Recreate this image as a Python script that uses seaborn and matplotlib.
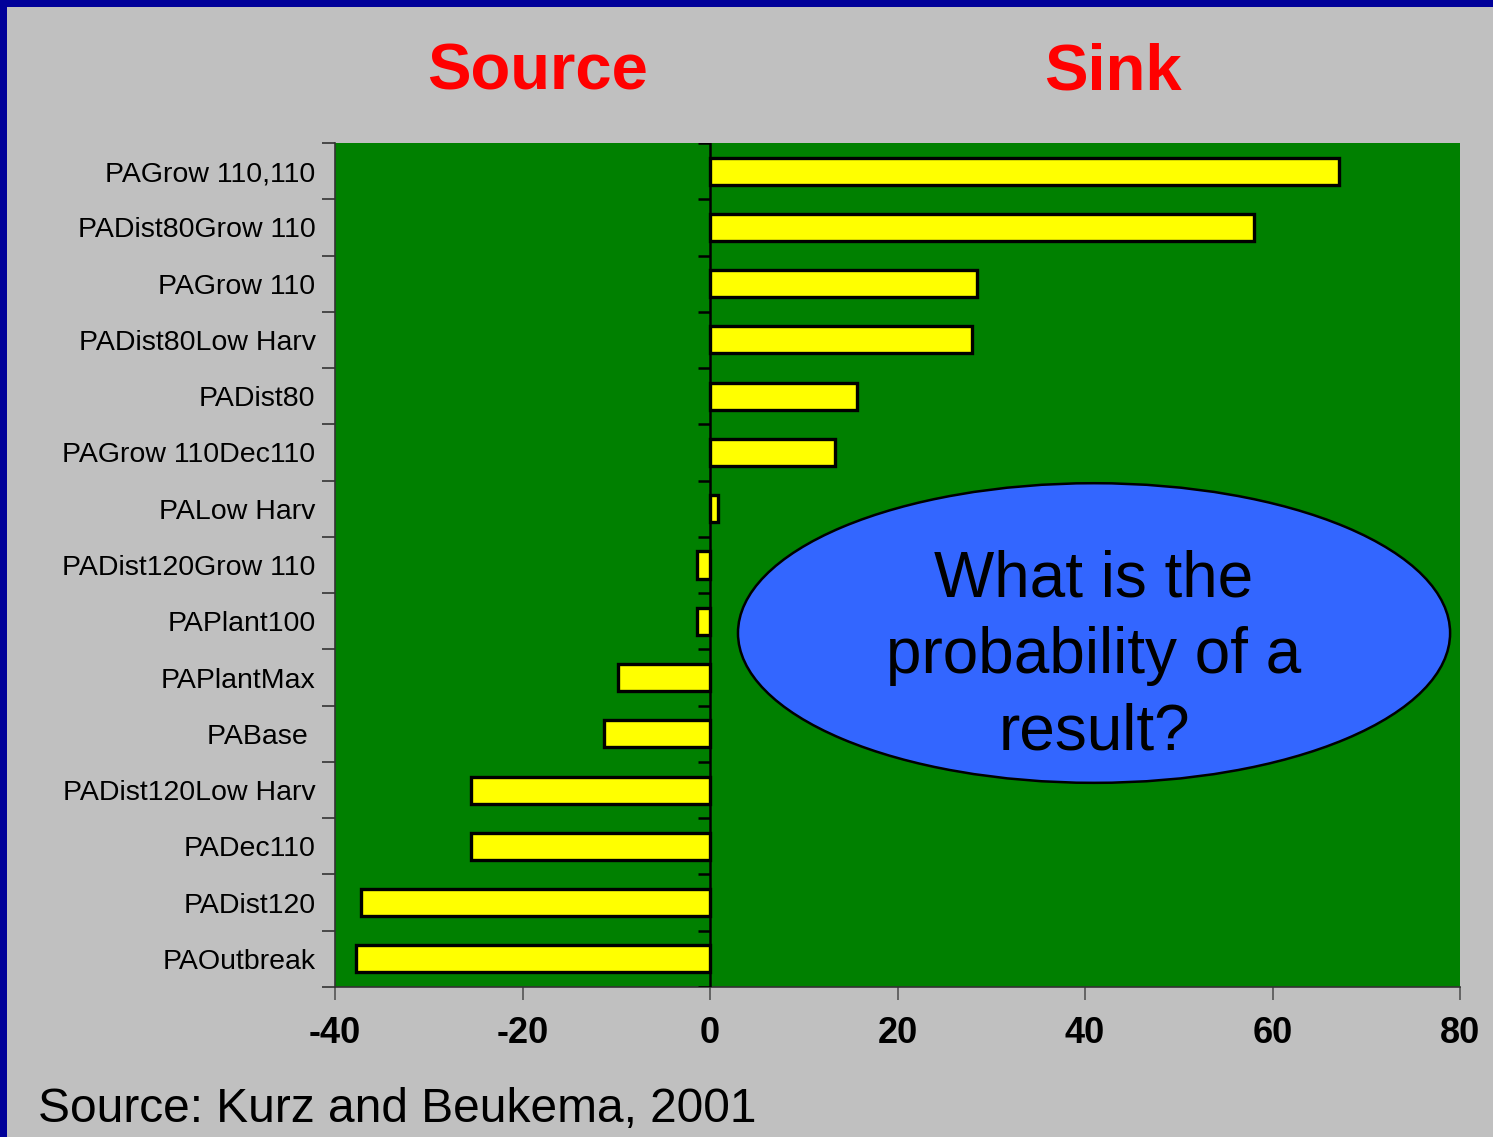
import matplotlib
matplotlib.use("Agg")
import matplotlib.pyplot as plt
from matplotlib.patches import Ellipse, Rectangle
import seaborn as sns
import pandas as pd
import numpy as np

categories = ["PAGrow 110,110", "PADist80Grow 110", "PAGrow 110", "PADist80Low Harv",
              "PADist80", "PAGrow 110Dec110", "PALow Harv", "PADist120Grow 110",
              "PAPlant100", "PAPlantMax", "PABase ", "PADist120Low Harv",
              "PADec110", "PADist120", "PAOutbreak"]
values = [67.1, 58.0, 28.5, 27.9, 15.7, 13.3, 0.85, -1.4, -1.4, -9.8, -11.3,
          -25.5, -25.5, -37.2, -37.8]
x_ticks = [-40, -20, 0, 20, 40, 60, 80]

GRAY = "#C0C0C0"
GREEN = "#008000"
YELLOW = "#FFFF00"

sns.set_theme(style="white")
plt.rcParams["font.family"] = ["Liberation Sans", "DejaVu Sans"]
plt.rcParams["text.color"] = "black"

df = pd.DataFrame({"category": categories, "value": values})

fig = plt.figure(figsize=(14.93, 11.37), dpi=100, facecolor=GRAY)
ax = fig.add_axes([335 / 1493, 1 - 987 / 1137, 1125 / 1493, 844 / 1137])
ax.set_facecolor(GREEN)

sns.barplot(data=df, x="value", y="category", order=categories, orient="h",
            color=YELLOW, edgecolor="black", linewidth=2.4, width=0.48,
            saturation=1, ax=ax)

ax.set_xlim(-40, 80)
ax.set_ylim(len(categories) - 0.5, -0.5)
ax.set_xticks(x_ticks)
ax.set_xticklabels([str(t) for t in x_ticks], fontsize=26, fontweight="bold",
                   color="black")
ax.set_xlabel("")
ax.set_ylabel("")

# y labels: no tick at center, ticks at category boundaries
ax.tick_params(axis="y", which="major", length=0, pad=14, labelsize=20.5,
               labelcolor="black")
bounds = np.arange(len(categories) + 1) - 0.5
ax.set_yticks(bounds, minor=True)
ax.tick_params(axis="y", which="minor", left=True, length=9.5, width=1.2,
               color="#333333", direction="out")
ax.tick_params(axis="x", which="major", bottom=True, length=9, width=1.2,
               color="#555555", direction="out", pad=12, labelcolor="black")

for s in ["top", "right"]:
    ax.spines[s].set_visible(False)
for s in ["left", "bottom"]:
    ax.spines[s].set_color("#333333")
    ax.spines[s].set_linewidth(1.2)

# zero axis line with small ticks to its left
ax.axvline(0, color="black", lw=1.8, zorder=3)
ax.hlines(bounds, -1.3, 0, colors="black", lw=1.8, zorder=3)

# speech ellipse
ell = Ellipse((0.6747, 0.4194), 0.633, 0.355, transform=ax.transAxes,
              facecolor="#3366FF", edgecolor="black", lw=1.8, zorder=4)
ax.add_patch(ell)
ax.text(0.6747, 1 - (656 - 143) / 844, "What is the\nprobability of a\nresult?",
        transform=ax.transAxes, ha="center", va="center", fontsize=46,
        color="black", linespacing=1.36, zorder=5)

# titles
fig.text(538 / 1493, 1 - 72 / 1137, "Source", color="#FF0000", fontsize=47,
         fontweight="bold", ha="center", va="center")
fig.text(1113 / 1493, 1 - 72 / 1137, "Sink", color="#FF0000", fontsize=47,
         fontweight="bold", ha="center", va="center")
fig.text(38 / 1493, 1 - 1110 / 1137, "Source: Kurz and Beukema, 2001",
         color="black", fontsize=34.5, ha="left", va="center")

# blue border (top and left)
fig.patches.append(Rectangle((0, 1 - 7 / 1137), 1, 7 / 1137, transform=fig.transFigure,
                             facecolor="#000099", edgecolor="none", zorder=10))
fig.patches.append(Rectangle((0, 0), 7 / 1493, 1, transform=fig.transFigure,
                             facecolor="#000099", edgecolor="none", zorder=10))

fig.savefig("out.png", dpi=100, facecolor=GRAY)
